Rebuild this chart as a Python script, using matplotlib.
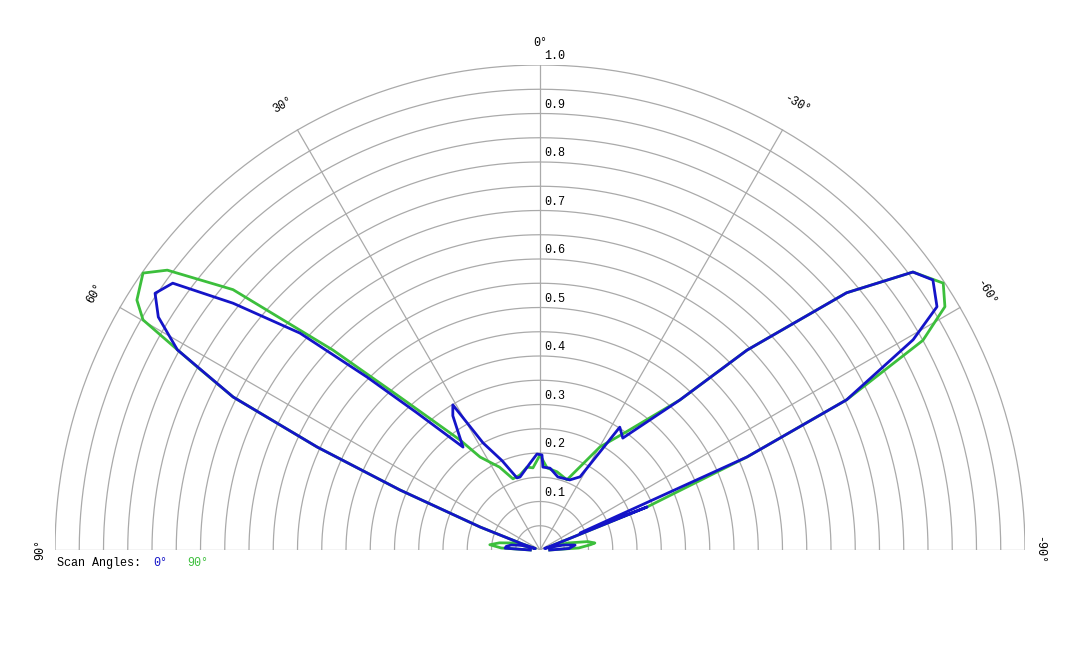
import numpy as np
import matplotlib
matplotlib.use("Agg")
import matplotlib.pyplot as plt

# theta in degrees (positive = left), r normalized
blue_theta = [-90, -87, -82, -78, -75, -72, -69, -68.1, -67, -65.8, -63.9, -60.6, -58.5, -55.5, -53.3, -50, -46, -43,
              -38, -36.5, -33, -28.7, -23, -13.8, -7, -2, -1.2, 1.8, 6.6, 15.3, 17.7, 23, 28, 31, 33, 36.8,
              41.9, 45, 47.9, 51.2, 54.0, 56.3, 58.6, 61.1, 63.5, 65.2, 66.8, 69, 71, 73, 76, 80, 84, 87, 90]
blue_r = [0.02, 0.06, 0.073, 0.05, 0.02, 0.01, 0.05, 0.238, 0.09, 0.468, 0.704, 0.883, 0.96, 0.983, 0.959, 0.825, 0.593, 0.423,
          0.31, 0.287, 0.302, 0.172, 0.157, 0.155, 0.17, 0.171, 0.196, 0.198, 0.18, 0.156, 0.156, 0.2, 0.25, 0.349, 0.33, 0.265,
          0.38, 0.504, 0.667, 0.812, 0.936, 0.954, 0.922, 0.854, 0.707, 0.506, 0.314, 0.132, 0.04, 0.01, 0.04, 0.06, 0.07, 0.072, 0.02]
green_theta = [-90, -87, -84, -82.7, -80, -76, -73, -70, -68.1, -65.8, -63.9, -61.3, -59, -56.5, -53.3, -50, -46, -43,
               -36, -30.2, -21, -12.3, -4.9, 0, 4.9, 8.9, 15, 20.8, 26, 32.8, 36, 42.5, 46, 49.7, 53.1, 55.1,
               58.2, 59.9, 61.9, 63.5, 65.2, 66.8, 69, 71, 73, 76, 80, 84, 87, 90]
green_r = [0.02, 0.08, 0.105, 0.114, 0.1, 0.06, 0.02, 0.03, 0.238, 0.468, 0.704, 0.90, 0.974, 0.997, 0.959, 0.825, 0.593, 0.423,
           0.3, 0.246, 0.155, 0.165, 0.17, 0.196, 0.17, 0.173, 0.16, 0.157, 0.19, 0.228, 0.28, 0.428, 0.593, 0.830, 0.961, 0.998,
           0.978, 0.946, 0.801, 0.707, 0.506, 0.314, 0.132, 0.04, 0.01, 0.06, 0.085, 0.104, 0.08, 0.02]

r_labels = [0.1, 0.2, 0.3, 0.4, 0.5, 0.6, 0.7, 0.8, 0.9, 1.0]
r_grid = np.arange(0.05, 1.001, 0.05)
angle_labels = [0, 30, -30, 60, -60, 90, -90]

FONT = "Liberation Mono"
GRID = "#aaaaaa"
BLUE = "#1414c8"
GREEN = "#3cbf3c"


def to_xy(theta_deg, r):
    t = np.deg2rad(np.asarray(theta_deg, dtype=float))
    r = np.asarray(r, dtype=float)
    return -r * np.sin(t), r * np.cos(t)


fig = plt.figure(figsize=(10.8, 6.48), dpi=100)
ax = fig.add_axes([55/1080, 1-550/648, 970/1080, 485/648])
ax.set_xlim(-1, 1)
ax.set_ylim(0, 1)
ax.axis("off")

arc = np.linspace(-90, 90, 361)
for r in r_grid:
    x, y = to_xy(arc, np.full_like(arc, r))
    ax.plot(x, y, color=GRID, lw=0.9, zorder=1)
for a in [-90, -60, -30, 0, 30, 60, 90]:
    x, y = to_xy([a, a], [0, 1])
    ax.plot(x, y, color=GRID, lw=0.9, zorder=1)

gx, gy = to_xy(green_theta, green_r)
bx, by = to_xy(blue_theta, blue_r)
ax.plot(gx, gy, color=GREEN, lw=2.0, zorder=3, solid_joinstyle="round", clip_on=False)
ax.plot(bx, by, color=BLUE, lw=2.0, zorder=4, solid_joinstyle="round", clip_on=False)

for r in r_labels:
    ax.annotate(f"{r:.1f}", xy=(0, r), xytext=(3, 2), textcoords="offset points",
                ha="left", va="bottom", fontsize=8.5, family=FONT, annotation_clip=False)
for a in angle_labels:
    rr = 1.045 if a == 0 else (1.03 if abs(a) == 90 else 1.06)
    x, y = to_xy([a], [rr])
    if abs(a) == 90:
        y = [0.0]
    ax.text(x[0], y[0], f"{a}°", rotation=a, ha="center", va="center",
            fontsize=8.5, family=FONT, clip_on=False)

fig.text(57/1080, 1-563/648, "Scan Angles:", fontsize=8.5, family=FONT, va="center")
fig.text(153/1080, 1-563/648, "0°", fontsize=8.5, family=FONT, va="center", color=BLUE)
fig.text(187/1080, 1-563/648, "90°", fontsize=8.5, family=FONT, va="center", color=GREEN)

fig.savefig("out.png", dpi=100)
